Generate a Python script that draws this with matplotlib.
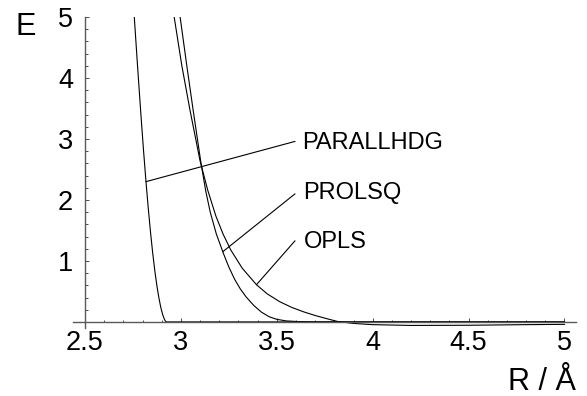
import numpy as np
import matplotlib
matplotlib.use("Agg")
import matplotlib.pyplot as plt
from matplotlib.ticker import MultipleLocator

plt.rcParams['font.family'] = ['Liberation Sans', 'DejaVu Sans']

# PARALLHDG repulsion curve
r_parallhdg = [2.757, 2.775, 2.792, 2.805, 2.818, 2.830, 2.842, 2.853, 2.864,
               2.875, 2.885, 2.895, 2.905, 2.913, 2.920, 2.925, 5.0]
e_parallhdg = [5.0, 4.15, 3.38, 2.82, 2.30, 1.86, 1.46, 1.13, 0.84,
               0.59, 0.40, 0.24, 0.12, 0.05, 0.01, 0.0, 0.0]

# PROLSQ curve
r_prolsq = [2.996, 3.030, 3.064, 3.104, 3.130, 3.153, 3.185, 3.222, 3.250,
            3.280, 3.310, 3.340, 3.380, 3.420, 3.460, 3.500, 3.550, 3.620,
            3.700, 5.0]
e_prolsq = [5.0, 4.22, 3.47, 2.62, 2.14, 1.80, 1.44, 1.12, 0.90,
            0.70, 0.54, 0.41, 0.27, 0.16, 0.085, 0.042, 0.016, 0.004,
            0.0, 0.0]

# OPLS curve (Lennard-Jones like, small well)
r_opls = [2.965, 3.005, 3.047, 3.100, 3.140, 3.182, 3.220, 3.260, 3.320,
          3.394, 3.450, 3.516, 3.580, 3.640, 3.700, 3.776, 3.820, 3.900,
          4.000, 4.200, 4.500, 4.800, 5.0]
e_opls = [5.0, 4.2, 3.48, 2.64, 2.16, 1.74, 1.44, 1.18, 0.88,
          0.61, 0.46, 0.33, 0.235, 0.165, 0.105, 0.04, 0.005, -0.025,
          -0.045, -0.058, -0.055, -0.045, -0.04]

labels = ["PARALLHDG", "PROLSQ", "OPLS"]
# leader start (on curve), leader end, text baseline
leader_from = [(2.818, 2.30), (3.218, 1.15), (3.394, 0.61)]
leader_to = [(3.595, 2.96), (3.595, 2.10), (3.595, 1.33)]
text_pos = [(3.634, 2.836), (3.639, 2.01), (3.639, 1.218)]

fig = plt.figure(figsize=(5.87, 3.96), dpi=100)
ax = fig.add_axes([73 / 587, 1 - 328 / 396, 503 / 587, 311 / 396])

lw = 0.8
ax.plot(r_parallhdg, e_parallhdg, color='black', lw=lw)
ax.plot(r_prolsq, e_prolsq, color='black', lw=lw)
ax.plot(r_opls, e_opls, color='black', lw=lw)

for name, p0, p1, tp in zip(labels, leader_from, leader_to, text_pos):
    ax.annotate('', xy=p0, xytext=p1,
                arrowprops=dict(arrowstyle='-', color='black', lw=lw,
                                shrinkA=0, shrinkB=0))
    ax.text(tp[0], tp[1], name, fontsize=17, ha='left', va='baseline')

ax.set_xlim(2.4375, 5.06)
ax.set_ylim(-0.1, 5.0)

for s in ['top', 'right']:
    ax.spines[s].set_visible(False)
ax.spines['left'].set_position(('data', 2.5))
ax.spines['bottom'].set_position(('data', 0))
for s in ['left', 'bottom']:
    ax.spines[s].set_color('0.35')
    ax.spines[s].set_linewidth(1.0)

ax.xaxis.set_minor_locator(MultipleLocator(0.1))
ax.yaxis.set_minor_locator(MultipleLocator(0.2))
ax.set_xticks([2.5, 3, 3.5, 4, 4.5, 5])
ax.set_xticklabels(['2.5', '3', '3.5', '4', '4.5', '5'])
ax.set_yticks([1, 2, 3, 4, 5])
ax.set_yticklabels(['1', '2', '3', '4', '5'])

ax.tick_params(which='both', direction='in', color='0.3', width=0.7)
ax.tick_params(which='major', length=3.0, labelsize=19.5)
ax.tick_params(which='minor', length=1.8)
ax.tick_params(axis='x', which='major', pad=6)
ax.tick_params(axis='y', which='major', pad=8.5)

fig.text(15 / 587, 1 - 35 / 396, 'E', fontsize=22, ha='left', va='baseline')
fig.text(576 / 587, 1 - 390 / 396, 'R / Å', fontsize=22, ha='right', va='baseline')

fig.savefig('out.png', dpi=100)
